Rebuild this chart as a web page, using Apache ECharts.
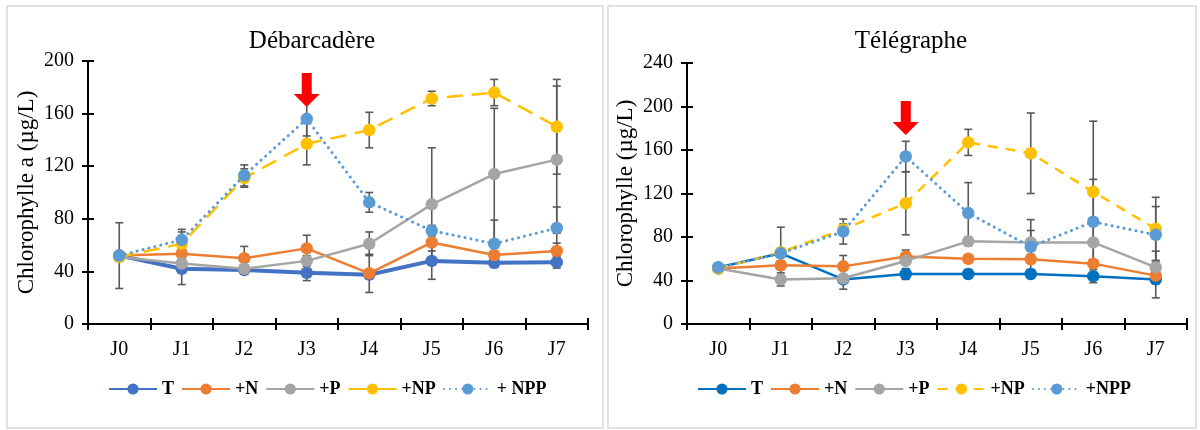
<!DOCTYPE html>
<html>
<head>
<meta charset="utf-8">
<script src="https://cdn.jsdelivr.net/npm/echarts@6/dist/echarts.min.js"></script>
<style>
html,body{margin:0;padding:0;background:#fff;}
#c{width:1200px;height:430px;}
</style>
</head>
<body>
<div id="c"></div>
<script>
// ---------- data ----------
const categories = ['J0','J1','J2','J3','J4','J5','J6','J7'];
const debTitle = 'Débarcadère';
const telTitle = 'Télégraphe';
const debYName = 'Chlorophylle a (µg/L)';
const telYName = 'Chlorophylle (µg/L)';
const debLegend = ['T','+N','+P','+NP','+ NPP'];
const telLegend = ['T','+N','+P','+NP','+NPP'];
const debTicks = [0, 200, 40];
const telTicks = [0, 240, 40];
const arrowCategory = 'J3';

// Débarcadère
const debT   = [52, 42, 41, 39, 37.5, 48, 46.5, 47];
const debN   = [52, 53.5, 50, 57.5, 38.5, 62, 52.5, 55.5];
const debP   = [51, 46, 42, 48, 61, 91, 114, 125];
const debNP  = [51, 61, 111, 137, 147.5, 171.5, 176, 150];
const debNPP = [52, 64, 113, 156, 92.5, 71, 61, 73];
const debTErr   = [25, 12, 3, 6, 3, 14, 3, 4.5];
const debNErr   = [0, 4, 9, 10, 14.5, 6.5, 3, 6];
const debPErr   = [0, 2, 3, 4, 9, 43, 50, 56];
const debNPErr  = [0, 9, 7, 16, 13.5, 5.5, 10, 36];
const debNPPErr = [0, 8, 8, 13, 7.5, 4, 18, 16];

// Télégraphe
const telT   = [52, 65, 41, 46, 46, 46, 44, 41];
const telN   = [51, 54, 53, 62, 60, 59.5, 55.5, 44.5];
const telP   = [51, 41, 42, 58, 76, 75, 75, 52];
const telNP  = [51, 66, 87, 111, 167, 157, 121.5, 87.5];
const telNPP = [52, 65, 85, 154, 102, 71, 94, 82];
const telTErr   = [0, 24, 9, 5, 4, 4, 6, 17];
const telNErr   = [0, 4, 10, 6, 3, 3, 3, 3];
const telPErr   = [0, 6, 3, 3, 4, 11, 3, 15];
const telNPErr  = [0, 3, 5, 29, 12, 37, 65, 29];
const telNPPErr = [0, 3, 11.5, 14, 28, 25, 39, 26];

// ---------- styles ----------
const FONT = '"Liberation Serif", "Times New Roman", serif';
const C_N = '#ED7D31', C_P = '#A5A5A5', C_NP = '#FFC000', C_NPP = '#5B9BD5';
const ERR = '#595959';
const ARROW = 'path://M8,0 L18,0 L18,21 L26,21 L13,34 L0,21 L8,21 Z';

function errData(vals, errs) {
  const out = [];
  vals.forEach((v, i) => { if (errs[i] > 0) out.push([i, v - errs[i], v + errs[i]]); });
  return out;
}
function errSeries(axisIdx, pairs) {
  let data = [];
  pairs.forEach(p => { data = data.concat(errData(p[0], p[1])); });
  return {
    type: 'custom', xAxisIndex: axisIdx, yAxisIndex: axisIdx, z: 1, silent: true,
    data: data,
    renderItem: function (params, api) {
      const x = api.value(0);
      const top = api.coord([x, api.value(2)]);
      const bot = api.coord([x, api.value(1)]);
      const w = 4;
      const st = { stroke: ERR, lineWidth: 1.6 };
      return { type: 'group', children: [
        { type: 'line', shape: { x1: top[0], y1: top[1], x2: bot[0], y2: bot[1] }, style: st },
        { type: 'line', shape: { x1: top[0]-w, y1: top[1], x2: top[0]+w, y2: top[1] }, style: st },
        { type: 'line', shape: { x1: bot[0]-w, y1: bot[1], x2: bot[0]+w, y2: bot[1] }, style: st }
      ]};
    }
  };
}
function lineSeries(name, data, axisIdx, color, width, type, z) {
  return {
    name: name, type: 'line', data: data, xAxisIndex: axisIdx, yAxisIndex: axisIdx,
    symbol: 'circle', symbolSize: 12.5, z: z,
    itemStyle: { color: color },
    lineStyle: { color: color, width: width, type: type, cap: Array.isArray(type) && type[0] < 1 ? 'round' : 'butt' },
    emphasis: { disabled: true }, animation: false
  };
}
function mainX(grid) {
  return { type: 'category', data: categories, gridIndex: grid, boundaryGap: true,
    axisLine: { lineStyle: { color: '#000', width: 2 } },
    axisTick: { show: true, length: 6, lineStyle: { color: '#000', width: 2 } },
    axisLabel: { color: '#000', fontFamily: FONT, fontSize: 20, margin: 16 },
    splitLine: { show: false } };
}
function innerX(grid) {
  return { type: 'category', data: categories, gridIndex: grid, boundaryGap: true, position: 'bottom',
    axisLine: { show: false },
    axisTick: { show: true, inside: true, length: 6, lineStyle: { color: '#000', width: 2 } },
    axisLabel: { show: false }, splitLine: { show: false } };
}
function mainY(grid, t, name, gap) {
  return { type: 'value', gridIndex: grid, min: t[0], max: t[1], interval: t[2],
    name: name, nameLocation: 'middle', nameGap: gap,
    nameTextStyle: { color: '#000', fontFamily: FONT, fontSize: 23 },
    axisLine: { show: true, lineStyle: { color: '#000', width: 2 } },
    axisTick: { show: true, length: 6, lineStyle: { color: '#000', width: 2 } },
    axisLabel: { color: '#000', fontFamily: FONT, fontSize: 20, margin: 14 },
    splitLine: { show: false } };
}
function innerY(grid, t) {
  return { type: 'value', gridIndex: grid, min: t[0], max: t[1], interval: t[2], position: 'left',
    axisLine: { show: false },
    axisTick: { show: true, inside: true, length: 6, lineStyle: { color: '#000', width: 2 } },
    axisLabel: { show: false }, splitLine: { show: false } };
}
function legend(left, names, overrides) {
  return {
    left: left, top: 375, itemWidth: 48, itemHeight: 14, itemGap: 7,
    selectedMode: false,
    data: names.map((n, i) => Object.assign({ name: n }, overrides[i] || {})),
    formatter: n => n.split('|')[0],
    textStyle: { color: '#000', fontFamily: FONT, fontSize: 18, fontWeight: 'bold' }
  };
}

const telNames = telLegend.map(n => n + '|t');

const debArrowSeries = lineSeries(debLegend[4], debNPP, 0, C_NPP, 3, [0.1, 6], 6);
debArrowSeries.markPoint = { silent: true, symbol: ARROW, symbolSize: [26, 34],
  itemStyle: { color: '#FF0000' }, label: { show: false },
  data: [{ coord: [arrowCategory, 178] }] };
const telArrowSeries = lineSeries(telNames[4], telNPP, 2, C_NPP, 3, [0.1, 6], 6);
telArrowSeries.markPoint = { silent: true, symbol: ARROW, symbolSize: [26, 34],
  itemStyle: { color: '#FF0000' }, label: { show: false },
  data: [{ coord: [arrowCategory, 189.5] }] };

const option = {
  backgroundColor: '#fff',
  animation: false,
  title: [
    { text: debTitle, left: 307, top: 24, textAlign: 'center',
      textStyle: { color: '#000', fontFamily: FONT, fontSize: 25, fontWeight: 'normal' } },
    { text: telTitle, left: 906, top: 24, textAlign: 'center',
      textStyle: { color: '#000', fontFamily: FONT, fontSize: 25, fontWeight: 'normal' } }
  ],
  graphic: [
    { type: 'rect', shape: { x: 7, y: 6, width: 596, height: 422 }, style: { fill: 'none', stroke: '#D9D9D9', lineWidth: 1.5 }, silent: true, z: -1 },
    { type: 'rect', shape: { x: 608, y: 6, width: 588, height: 422 }, style: { fill: 'none', stroke: '#D9D9D9', lineWidth: 1.5 }, silent: true, z: -1 }
  ],
  legend: [
    legend(103, debLegend, [null, null, null, { lineStyle: { type: 'solid' } }, null]),
    legend(692, telNames, [])
  ],
  grid: [
    { left: 88, right: 612, top: 61, bottom: 106 },
    { left: 687, right: 13, top: 63, bottom: 106 }
  ],
  xAxis: [mainX(0), innerX(0), mainX(1), innerX(1)],
  yAxis: [mainY(0, debTicks, debYName, 50), innerY(0, debTicks), mainY(1, telTicks, telYName, 50), innerY(1, telTicks)],
  series: [
    errSeries(0, [[debT, debTErr], [debN, debNErr], [debP, debPErr], [debNP, debNPErr], [debNPP, debNPPErr]]),
    lineSeries(debLegend[0], debT, 0, '#4472C4', 4, 'solid', 2),
    lineSeries(debLegend[1], debN, 0, C_N, 2.5, 'solid', 3),
    lineSeries(debLegend[2], debP, 0, C_P, 2.5, 'solid', 4),
    lineSeries(debLegend[3], debNP, 0, C_NP, 2.5, [16, 9], 5),
    debArrowSeries,
    errSeries(2, [[telT, telTErr], [telN, telNErr], [telP, telPErr], [telNP, telNPErr], [telNPP, telNPPErr]]),
    lineSeries(telNames[0], telT, 2, '#0070C0', 2.5, 'solid', 2),
    lineSeries(telNames[1], telN, 2, C_N, 2.5, 'solid', 3),
    lineSeries(telNames[2], telP, 2, C_P, 2.5, 'solid', 4),
    lineSeries(telNames[3], telNP, 2, C_NP, 2.5, [10, 8], 5),
    telArrowSeries
  ]
};
const chart = echarts.init(document.getElementById('c'), null, { renderer: 'canvas' });
chart.setOption(option);
</script>
</body>
</html>
